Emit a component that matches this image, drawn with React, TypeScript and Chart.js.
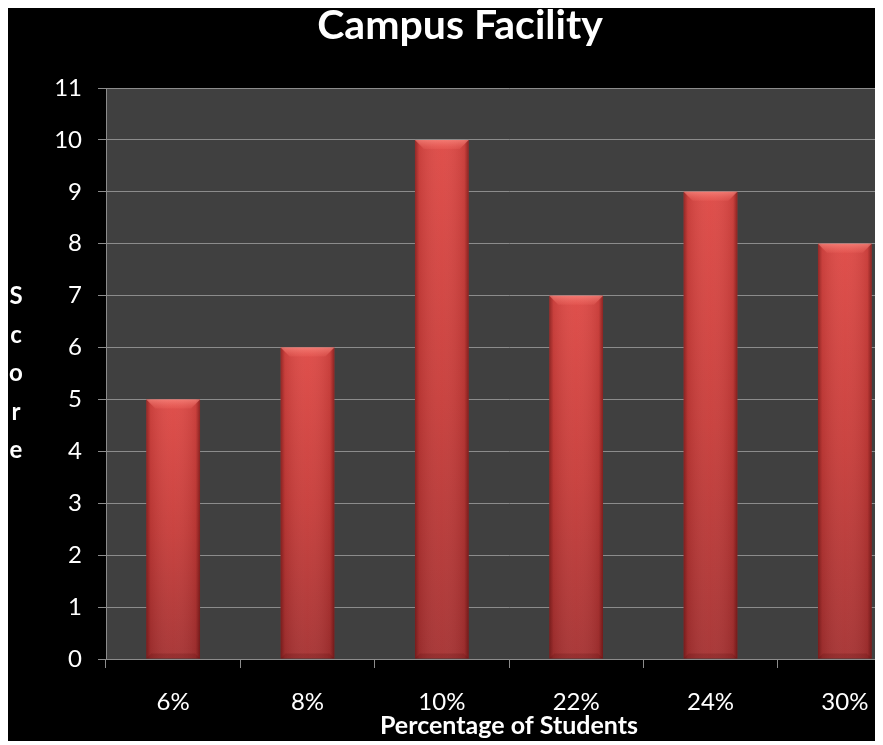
import React, { useEffect, useRef } from "react";
import { Chart, registerables } from "chart.js";

Chart.register(...registerables);

const categories = ["6%", "8%", "10%", "22%", "24%", "30%"];
const scores = [5, 6, 10, 7, 9, 8];
const yTicks = [0, 1, 2, 3, 4, 5, 6, 7, 8, 9, 10, 11];
const chartTitle = "Campus Facility";
const xTitle = "Percentage of Students";
const yTitleLetters = ["S", "c", "o", "r", "e"];

const FONT = "Lato, 'Open Sans', sans-serif";
const GRID = "#8c8c8c";

const bgPlugin = {
  id: "plotBg",
  beforeDraw(chart: any) {
    const { ctx, chartArea } = chart;
    ctx.save();
    ctx.fillStyle = "#000000";
    ctx.fillRect(0, 0, chart.width, chart.height);
    ctx.fillStyle = "#404040";
    ctx.fillRect(chartArea.left, chartArea.top, chartArea.right - chartArea.left, chartArea.bottom - chartArea.top);
    ctx.restore();
  },
};

const bevelPlugin = {
  id: "bevel",
  afterDatasetsDraw(chart: any) {
    const { ctx } = chart;
    const meta = chart.getDatasetMeta(0);
    ctx.save();
    meta.data.forEach((bar: any) => {
      const w = bar.width;
      const l = bar.x - w / 2;
      const r = bar.x + w / 2;
      const t = bar.y;
      const b = bar.base;
      const bv = 9;
      const hg = ctx.createLinearGradient(l, 0, r, 0);
      hg.addColorStop(0, "rgba(60,0,0,0.45)");
      hg.addColorStop(0.08, "rgba(60,0,0,0.12)");
      hg.addColorStop(0.5, "rgba(255,255,255,0.03)");
      hg.addColorStop(0.92, "rgba(60,0,0,0.12)");
      hg.addColorStop(1, "rgba(60,0,0,0.5)");
      ctx.fillStyle = hg;
      ctx.fillRect(l, t, w, b - t);
      ctx.beginPath();
      ctx.moveTo(l, t);
      ctx.lineTo(r, t);
      ctx.lineTo(r - bv, t + bv);
      ctx.lineTo(l + bv, t + bv);
      ctx.closePath();
      const tg = ctx.createLinearGradient(0, t, 0, t + bv);
      tg.addColorStop(0, "rgba(255,150,140,0.6)");
      tg.addColorStop(1, "rgba(255,120,110,0.15)");
      ctx.fillStyle = tg;
      ctx.fill();
      ctx.beginPath();
      ctx.moveTo(l, b);
      ctx.lineTo(r, b);
      ctx.lineTo(r - 5, b - 5);
      ctx.lineTo(l + 5, b - 5);
      ctx.closePath();
      ctx.fillStyle = "rgba(80,10,10,0.2)";
      ctx.fill();
    });
    ctx.restore();
  },
};

const yTitlePlugin = {
  id: "yTitleStack",
  afterDraw(chart: any) {
    const { ctx, chartArea } = chart;
    const mid = (chartArea.top + chartArea.bottom) / 2;
    const step = 38.5;
    ctx.save();
    ctx.fillStyle = "#ffffff";
    ctx.font = `bold 24px ${FONT}`;
    ctx.textAlign = "center";
    ctx.textBaseline = "middle";
    yTitleLetters.forEach((ch, i) => {
      ctx.fillText(ch, 8, mid + (i - (yTitleLetters.length - 1) / 2) * step);
    });
    ctx.restore();
  },
};

export default function App() {
  const ref = useRef<HTMLCanvasElement | null>(null);
  useEffect(() => {
    if (!ref.current) return;
    const chart = new Chart(ref.current, {
      type: "bar",
      data: {
        labels: categories,
        datasets: [
          {
            label: "Score",
            data: scores,
            barPercentage: 0.4,
            categoryPercentage: 1,
            backgroundColor: (c: any) => {
              const ch = c.chart;
              if (!ch.chartArea || c.type !== "data") return "#c83c3a";
              const y = ch.scales.y;
              const top = y.getPixelForValue(c.raw);
              const bottom = y.getPixelForValue(0);
              const g = ch.ctx.createLinearGradient(0, top, 0, bottom);
              g.addColorStop(0, "#de4a46");
              g.addColorStop(0.5, "#c83e3b");
              g.addColorStop(1, "#a63333");
              return g;
            },
            borderWidth: 0,
          },
        ],
      },
      options: {
        responsive: false,
        animation: false,
        layout: { padding: { left: 0, right: 16, top: 0, bottom: 0 } },
        plugins: {
          legend: { display: false },
          tooltip: { enabled: false },
          title: {
            display: true,
            text: chartTitle,
            color: "#ffffff",
            font: { family: FONT, size: 41, weight: "bold" },
            padding: { top: -7, bottom: 37.8 },
          },
        },
        scales: {
          x: {
            grid: { display: true, drawOnChartArea: false, drawTicks: true, tickLength: 9, color: GRID, offset: true },
            border: { display: true, color: GRID, width: 1 },
            ticks: { color: "#ffffff", font: { family: FONT, size: 24 }, padding: 20 },
            title: {
              display: true,
              text: xTitle,
              color: "#ffffff",
              font: { family: FONT, size: 25, weight: "bold" },
              padding: { top: 0, bottom: 0 },
            },
            afterFit: (s: any) => {
              s.height = 82;
            },
          },
          y: {
            min: 0,
            max: 11,
            afterBuildTicks: (s: any) => {
              s.ticks = yTicks.map((v) => ({ value: v }));
            },
            grid: { color: GRID, tickLength: 8, lineWidth: 1 },
            border: { display: true, color: GRID, width: 1 },
            ticks: { color: "#ffffff", font: { family: FONT, size: 24 }, padding: 16, stepSize: 1 },
            afterFit: (s: any) => {
              s.width = 98;
            },
          },
        },
      },
      plugins: [bgPlugin, bevelPlugin, yTitlePlugin],
    } as any);
    return () => chart.destroy();
  }, []);
  return (
    <div style={{ width: 875, height: 733, overflow: "hidden" }}>
      <canvas ref={ref} width={920} height={733} style={{ display: "block", width: 920, height: 733 }} />
    </div>
  );
}
